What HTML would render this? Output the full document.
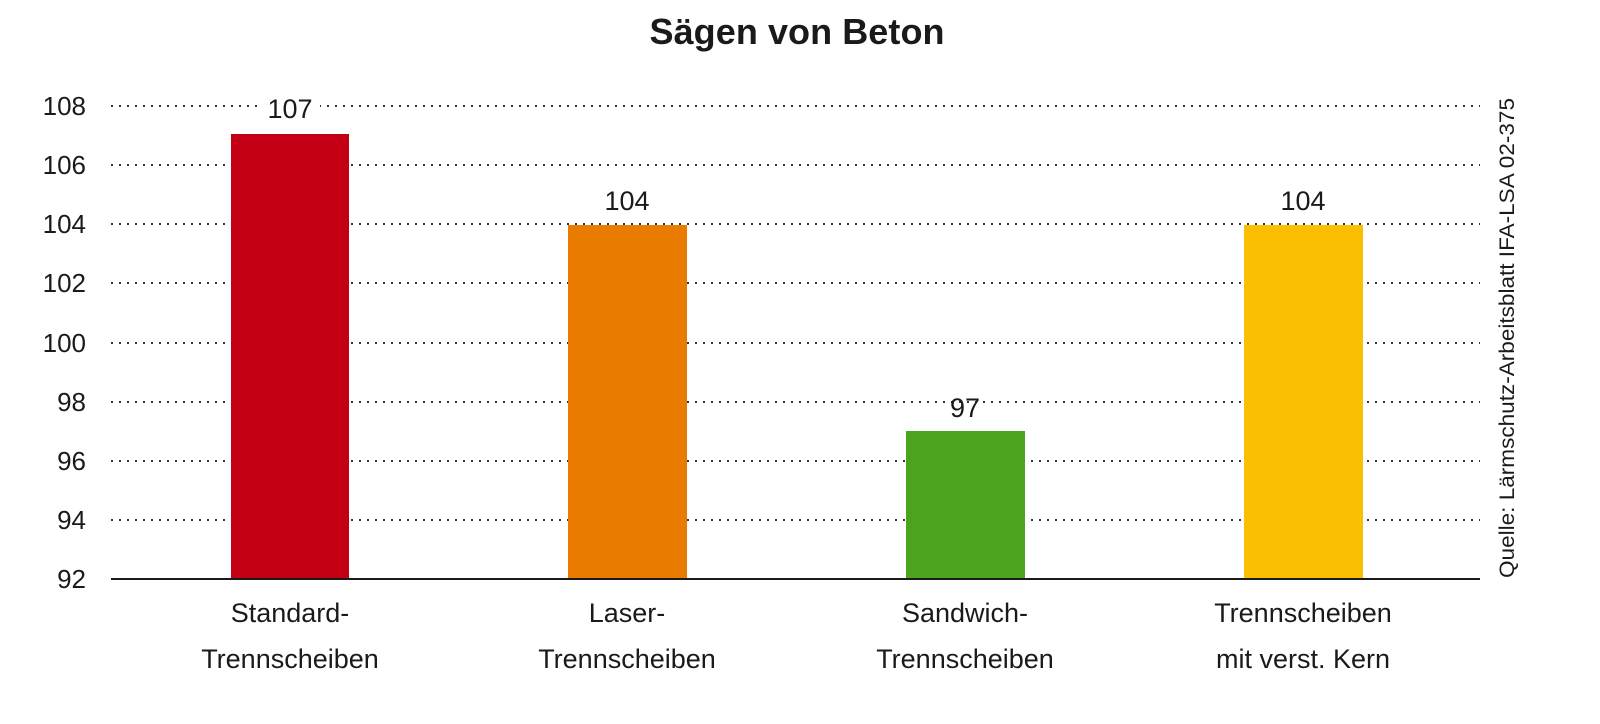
<!DOCTYPE html>
<html><head><meta charset="utf-8"><style>
html,body{margin:0;padding:0;background:#fff;}
svg{display:block;}
text{font-family:"Liberation Sans Narrow","Liberation Sans",sans-serif;fill:#1a1a1a;}
</style></head><body>
<svg width="1600" height="724" viewBox="0 0 1600 724" xmlns="http://www.w3.org/2000/svg">
<text x="797" y="44" font-size="36" font-weight="bold" text-anchor="middle" textLength="295">Sägen von Beton</text>
<g stroke="#333" stroke-width="2" stroke-dasharray="2,6">
<line x1="111" y1="106" x2="1480" y2="106"/>
<line x1="111" y1="165" x2="1480" y2="165"/>
<line x1="111" y1="224" x2="1480" y2="224"/>
<line x1="111" y1="283" x2="1480" y2="283"/>
<line x1="111" y1="343" x2="1480" y2="343"/>
<line x1="111" y1="402" x2="1480" y2="402"/>
<line x1="111" y1="461" x2="1480" y2="461"/>
<line x1="111" y1="520" x2="1480" y2="520"/>
</g>
<g font-size="26" text-anchor="end">
<text x="86" y="115">108</text><text x="86" y="174">106</text><text x="86" y="233">104</text>
<text x="86" y="292">102</text><text x="86" y="352">100</text><text x="86" y="411">98</text>
<text x="86" y="470">96</text><text x="86" y="529">94</text><text x="86" y="588">92</text>
</g>
<rect x="231" y="134" width="118" height="445" fill="#c30013"/>
<rect x="568" y="225" width="119" height="354" fill="#e87b00"/>
<rect x="906" y="431" width="119" height="148" fill="#4ba31e"/>
<rect x="1244" y="225" width="119" height="354" fill="#f9bf00"/>
<line x1="111" y1="579" x2="1480" y2="579" stroke="#1a1a1a" stroke-width="2"/>
<g font-size="27" text-anchor="middle">
<rect x="260" y="92" width="60" height="28" fill="#fff"/>
<text x="290" y="118">107</text>
<rect x="597" y="182" width="60" height="30" fill="#fff"/>
<text x="627" y="210">104</text>
<text x="965" y="417">97</text>
<rect x="1273" y="182" width="60" height="30" fill="#fff"/>
<text x="1303" y="210">104</text>
</g>
<g font-size="27" text-anchor="middle">
<text x="290" y="622">Standard-</text><text x="290" y="668">Trennscheiben</text>
<text x="627" y="622">Laser-</text><text x="627" y="668">Trennscheiben</text>
<text x="965" y="622">Sandwich-</text><text x="965" y="668">Trennscheiben</text>
<text x="1303" y="622">Trennscheiben</text><text x="1303" y="668">mit verst. Kern</text>
</g>
<text transform="translate(1514,578) rotate(-90)" font-size="21" textLength="480" lengthAdjust="spacingAndGlyphs">Quelle: Lärmschutz-Arbeitsblatt IFA-LSA 02-375</text>
</svg>
</body></html>
